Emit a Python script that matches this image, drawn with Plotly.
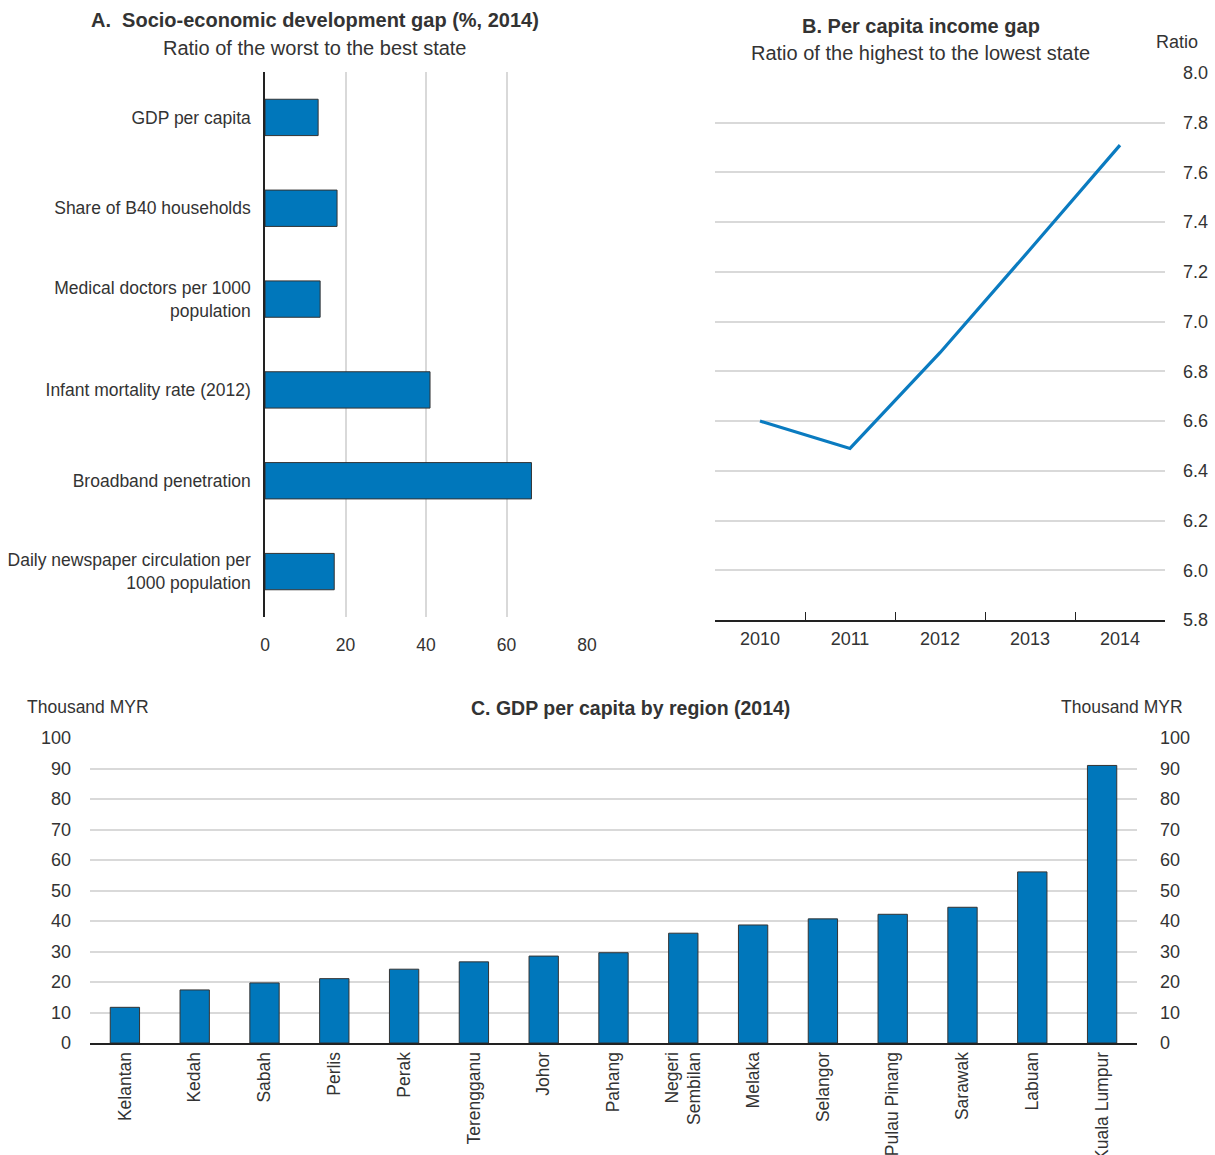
import plotly.graph_objects as go

# Panel A data
a_labels = ["GDP per capita", "Share of B40 households", "Medical doctors per 1000<br>population",
            "Infant mortality rate (2012)", "Broadband penetration",
            "Daily newspaper circulation per<br>1000 population"]
a_values = [13.2, 17.9, 13.7, 41.0, 66.2, 17.2]
a_ticks = [0, 20, 40, 60, 80]

# Panel B data
b_years = ["2010", "2011", "2012", "2013", "2014"]
b_values = [6.60, 6.49, 6.875, 7.29, 7.71]

# Panel C data
c_regions = ["Kelantan", "Kedah", "Sabah", "Perlis", "Perak", "Terengganu", "Johor", "Pahang",
             "Negeri<br>Sembilan", "Melaka", "Selangor", "Pulau Pinang", "Sarawak", "Labuan", "Kuala Lumpur"]
c_values = [11.7, 17.4, 19.7, 21.1, 24.2, 26.6, 28.5, 29.6, 36.0, 38.7, 40.7, 42.2, 44.5, 56.1, 91.0]
c_ticks = [0, 10, 20, 30, 40, 50, 60, 70, 80, 90, 100]

W, H = 1215, 1155
BLUE = "#0077BB"
TXT = "#333333"
GRID = "#d9d9d9"
FONT = "Liberation Sans Narrow, Arial Narrow, Liberation Sans, Arial, sans-serif"
WIDE = "Liberation Sans, Arial, sans-serif"

def px(x):
    return x / W

def py(y):
    return 1 - y / H

fig = go.Figure()

fig.add_trace(go.Bar(x=a_values, y=a_labels, orientation="h", xaxis="x", yaxis="y",
                     marker=dict(color=BLUE, line=dict(color="#333333", width=1)), width=0.4,
                     showlegend=False))
fig.add_trace(go.Scatter(x=b_years, y=b_values, mode="lines", xaxis="x2", yaxis="y2",
                         line=dict(color="#0a7bc0", width=3.2), showlegend=False))
fig.add_trace(go.Bar(x=c_regions, y=c_values, xaxis="x3", yaxis="y3",
                     marker=dict(color=BLUE, line=dict(color="#333333", width=1)), width=0.42,
                     showlegend=False))
fig.add_trace(go.Scatter(x=c_regions, y=c_values, xaxis="x3", yaxis="y4", mode="markers",
                         marker=dict(opacity=0), hoverinfo="skip", showlegend=False))

fig.update_layout(
    width=W, height=H, margin=dict(l=0, r=0, t=0, b=0, autoexpand=False),
    plot_bgcolor="white", paper_bgcolor="white",
    font=dict(family=FONT, color=TXT, size=17),
    xaxis=dict(domain=[px(265), px(587)], range=[0, 80], tickvals=a_ticks,
               showgrid=True, gridcolor=GRID, gridwidth=1.5, zeroline=False, showline=False,
               ticks="", tickfont=dict(size=17.5), anchor="y", automargin=False,
               ticklabelstandoff=15),
    yaxis=dict(domain=[py(617), py(72)], autorange="reversed", showline=True, linecolor="#222",
               linewidth=1.5, ticks="", showgrid=False, tickfont=dict(size=17.5), anchor="x",
               ticklabelstandoff=9, automargin=False),
    xaxis2=dict(domain=[px(715), px(1165)], anchor="y2", type="category", range=[-0.5, 4.5],
                tickson="boundaries", ticks="inside", ticklen=8, tickcolor="#222", showline=True,
                linecolor="#222", linewidth=1.5, showgrid=False, automargin=False,
                tickfont=dict(family=WIDE, size=18), ticklabelstandoff=2),
    yaxis2=dict(domain=[py(620), py(73)], anchor="x2", side="right", range=[5.8, 8.0], dtick=0.2,
                tickformat=".1f", showgrid=True, gridcolor=GRID, gridwidth=1.5, zeroline=False,
                ticks="", tickfont=dict(family=WIDE, size=18), ticklabelstandoff=17,
                automargin=False),
    xaxis3=dict(domain=[px(90), px(1137)], anchor="y3", type="category",
                range=[-0.5, len(c_regions) - 0.5], showline=True,
                linecolor="#222", linewidth=2, ticks="", tickangle=-90, showgrid=False,
                tickfont=dict(size=17.5), automargin=False, ticklabelstandoff=0),
    yaxis3=dict(domain=[py(1043), py(738)], anchor="x3", range=[0, 100], tickvals=c_ticks,
                showgrid=True, gridcolor=GRID, gridwidth=1.5, zeroline=False, ticks="",
                tickfont=dict(size=18), ticklabelstandoff=18, automargin=False),
    yaxis4=dict(overlaying="y3", side="right", anchor="x3", range=[0, 100], tickvals=c_ticks,
                showgrid=False, zeroline=False, ticks="", tickfont=dict(size=18),
                ticklabelstandoff=22, automargin=False),
)

ann = [
    dict(x=px(315), y=py(20), text="<b>A.  Socio-economic development gap (%, 2014)</b>", size=20, f=FONT),
    dict(x=px(315), y=py(48), text="Ratio of the worst to the best state", size=20, f=FONT),
    dict(x=px(921), y=py(26), text="<b>B. Per capita income gap</b>", size=20, f=WIDE),
    dict(x=px(921), y=py(53), text="Ratio of the highest to the lowest state", size=20, f=WIDE),
    dict(x=px(1177), y=py(42), text="Ratio", size=18, f=WIDE),
    dict(x=px(630), y=py(708), text="<b>C. GDP per capita by region (2014)</b>", size=19.5, f=FONT),
    dict(x=px(88), y=py(707), text="Thousand MYR", size=17.5, f=FONT),
    dict(x=px(1122), y=py(707), text="Thousand MYR", size=17.5, f=FONT),
]
for a in ann:
    fig.add_annotation(x=a["x"], y=a["y"], xref="paper", yref="paper", text=a["text"],
                       showarrow=False, xanchor="center", yanchor="middle",
                       font=dict(size=a["size"], color=TXT, family=a["f"]))

fig.write_html("out.html", config={"displayModeBar": False},
               post_script="document.body.style.margin='0';document.body.style.overflow='hidden';")
